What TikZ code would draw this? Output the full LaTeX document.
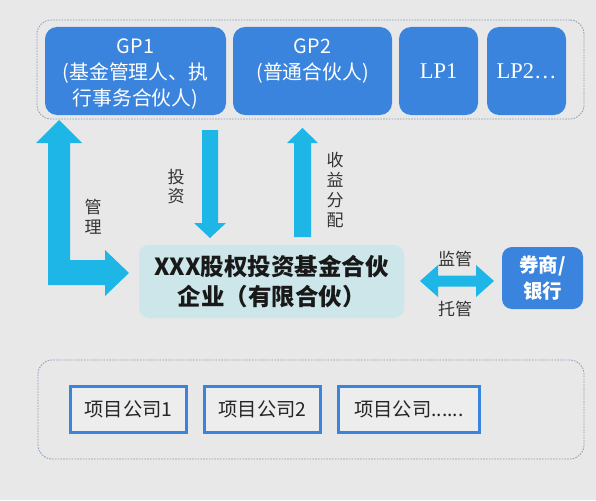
\documentclass[tikz,border=0pt]{standalone}
\usepackage{fontspec}
\setmainfont{Noto Sans CJK SC}
\newfontfamily\lpfont{Liberation Serif}
\definecolor{bg}{HTML}{E8E8E8}
\definecolor{boxblue}{HTML}{3A84DE}
\definecolor{arrcyan}{HTML}{1DB6E6}
\definecolor{centerfill}{HTML}{CDE6EA}
\definecolor{dashc}{HTML}{8C9CB8}
\definecolor{txtgray}{HTML}{333333}
\definecolor{projfill}{HTML}{EDEDED}
\begin{document}
\begin{tikzpicture}[x=1pt,y=-1pt,
  bluebox/.style={fill=boxblue, rounded corners=12pt, text=white, inner sep=0pt, align=center},
  boxtext/.style={text=white, inner sep=0pt, align=center, font=\fontsize{19.8}{26}\selectfont},
  container/.style={draw=dashc, line width=0.8pt, dash pattern=on 1.6pt off 1.2pt, rounded corners=14pt, inner sep=0pt},
  blockarrow/.style={fill=arrcyan},
  lbl/.style={text=txtgray, align=center, inner sep=0pt, font=\fontsize{17}{19.5}\selectfont},
  proj/.style={draw=boxblue, line width=3pt, fill=projfill, minimum height=46pt, inner sep=0pt, text=black!85, font=\fontsize{19.3}{22}\selectfont}
]
\fill[bg] (0,0) rectangle (596,500);
\useasboundingbox (0,0) rectangle (596,500);

% top container
\node[container, minimum width=547pt, minimum height=99pt] (top) at (310.5,69.5) {};
\node[bluebox, minimum width=181pt, minimum height=88pt] (gp1) at (135.5,71) {};
\node[boxtext] (gp1t) at ([yshift=-3.5pt]gp1.center) {GP1\\(基金管理人、执\\行事务合伙人)};
\node[bluebox, minimum width=159pt, minimum height=88pt] (gp2) at (312.5,71) {};
\node[boxtext] (gp2t) at ([yshift=10pt]gp2.center) {GP2\\(普通合伙人)};
\node[bluebox, minimum width=79pt, minimum height=88pt, font=\lpfont\fontsize{22.5}{26}\selectfont] (lp1) at (438.5,71) {LP1};
\node[bluebox, minimum width=79pt, minimum height=88pt, font=\lpfont\fontsize{22.5}{26}\selectfont] (lp2) at (526.5,71) {LP2…};

% center
\node[fill=centerfill, rounded corners=10pt, minimum width=265pt, minimum height=73pt, align=center, inner sep=0pt, text=black!90, font=\fontsize{23.5}{30}\selectfont\bfseries] (fund) at (271.5,281.5) {XXX股权投资基金合伙\\企业（有限合伙）};
\node[bluebox, rounded corners=10pt, minimum width=81pt, minimum height=62pt, font=\fontsize{19.5}{26}\selectfont\bfseries] (bank) at (542.5,278) {券商/\\银行};

% bottom
\node[container, minimum width=546pt, minimum height=99pt] (bottom) at (311,409.5) {};
\node[proj, minimum width=116pt] (p1) at (128.5,409.5) {项目公司1};
\node[proj, minimum width=116pt] (p2) at (262.5,409.5) {项目公司2};
\node[proj, minimum width=141pt] (p3) at (409,409.5) {项目公司......};

% arrows
\fill[blockarrow] (59,120) -- (82,143) -- (70,143) -- (70,260) -- (105,260) -- (105,250) -- (129,273) -- (105,296) -- (105,285) -- (48,285) -- (48,143) -- (36,143) -- cycle;
\fill[blockarrow] (202,130) -- (218,130) -- (218,223) -- (226,223) -- (210,238) -- (194,223) -- (202,223) -- cycle;
\fill[blockarrow] (302.5,128) -- (318,143) -- (311,143) -- (311,237) -- (294,237) -- (294,143) -- (287,143) -- cycle;
\fill[blockarrow] (420,281) -- (438,265) -- (438,275.5) -- (476,275.5) -- (476,265) -- (494,281) -- (476,297) -- (476,286.5) -- (438,286.5) -- (438,297) -- cycle;

% labels
\node[lbl] (linv) at (176,186.5) {投\\资};
\node[lbl] (lman) at (93,216.5) {管\\理};
\node[lbl, font=\fontsize{17}{20.3}\selectfont] (lret) at (335,190) {收\\益\\分\\配};
\node[lbl] (lsup) at (455,259) {监管};
\node[lbl] (lcus) at (455,309) {托管};
\end{tikzpicture}
\end{document}
